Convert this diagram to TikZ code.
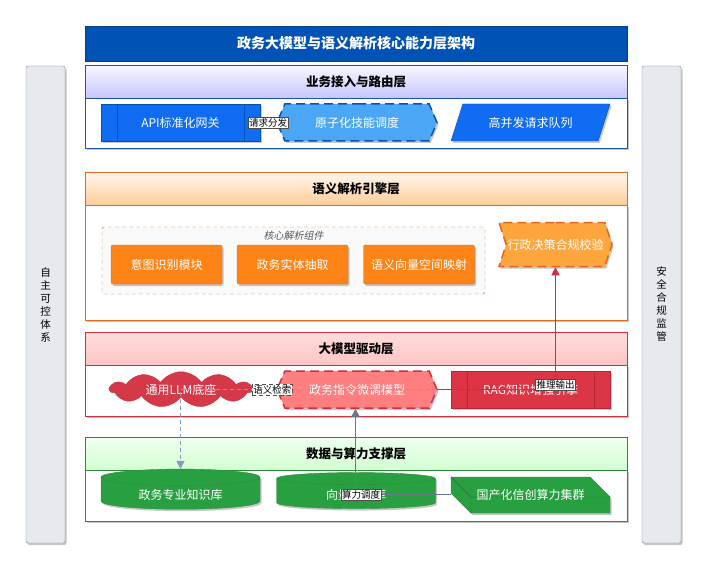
\documentclass[tikz,border=0pt]{standalone}
\usepackage{fontspec}
\setmainfont{Noto Sans CJK SC}
\newfontfamily\slantcjk[FakeSlant=0.2]{Noto Sans CJK SC}
\usetikzlibrary{shapes.geometric,shapes.symbols,shadows,arrows.meta}

\definecolor{titleblue}{HTML}{0052B4}
\definecolor{navyline}{HTML}{1E56A6}
\definecolor{apiblue}{HTML}{106CF2}
\definecolor{skyblue}{HTML}{4BA7F5}
\definecolor{orangeline}{HTML}{E2691F}
\definecolor{orangefill}{HTML}{FF8418}
\definecolor{lightorange}{HTML}{FFA53D}
\definecolor{redline}{HTML}{D12F3F}
\definecolor{redfill}{HTML}{DC3545}
\definecolor{pinkfill}{HTML}{FF7F80}
\definecolor{greenline}{HTML}{2E8A3C}
\definecolor{greenfill}{HTML}{28A042}
\definecolor{sidefill}{HTML}{E6E9ED}
\definecolor{sideline}{HTML}{7F868F}
\definecolor{slateline}{HTML}{6B778A}
\definecolor{mistline}{HTML}{8C9BB1}
\definecolor{arrowred}{HTML}{D42A48}

\tikzset{
  softshadow/.style={drop shadow={shadow xshift=1.5pt,shadow yshift=-2pt,opacity=0.22,fill=black}},
  sidebar/.style={draw=sideline,fill=sidefill,rounded corners=2pt,minimum width=39pt,minimum height=477pt,
    align=center,font=\fontsize{10.5}{13}\selectfont,softshadow},
  layerhead/.style n args={3}{draw=#1,top color=#2,bottom color=#3,minimum width=542pt,minimum height=33pt,
    inner sep=0pt,line width=0.8pt,font=\fontsize{12.5}{14}\selectfont\bfseries},
  layerbody/.style={draw=#1,fill=white,minimum width=542pt,inner sep=0pt,line width=0.8pt,softshadow},
  procbox/.style={rectangle,draw=#1,text=white,minimum width=159pt,minimum height=37pt,softshadow,
    path picture={\draw[#1,line width=0.8pt]
      ([xshift=16pt]path picture bounding box.north west) -- ([xshift=16pt]path picture bounding box.south west)
      ([xshift=-16pt]path picture bounding box.north east) -- ([xshift=-16pt]path picture bounding box.south east);}},
  hexbox/.style={signal,signal to=east and west,signal pointer angle=134,dashed,dash pattern=on 9pt off 5pt,
    line width=1.5pt,text=white,minimum width=160pt,minimum height=37pt,softshadow},
  corebox/.style={rectangle,rounded corners=2pt,draw=orangeline,fill=orangefill,text=white,
    minimum width=111pt,minimum height=39pt,softshadow},
  dbase/.style={cylinder,shape border rotate=90,aspect=0.18,draw=greenline,fill=greenfill,text=white,
    minimum width=159pt,minimum height=36pt,softshadow},
  lbl/.style={fill=white,draw=gray!60!black,line width=0.4pt,inner sep=1pt,text=black,
    font=\fontsize{9.5}{11}\selectfont},
  >={Triangle[length=8pt,width=8pt]}
}

\begin{document}
\begin{tikzpicture}[x=1pt,y=-1pt,font=\fontsize{12}{14}\selectfont]
\path[use as bounding box,fill=white] (0,0) rectangle (709,572);

% side bars
\node[sidebar] (leftbar) at (45.5,304.5) {自\\主\\可\\控\\体\\系};
\node[sidebar] (rightbar) at (661.5,304.5) {安\\全\\合\\规\\监\\管};

% title
\node[draw=titleblue!80!black,fill=titleblue,text=white,minimum width=542pt,minimum height=35pt,
  font=\fontsize{14}{16}\selectfont\bfseries] (title) at (356,43.5) {政务大模型与语义解析核心能力层架构};

% layer 1
\node[layerbody=navyline,minimum height=50pt] (l1body) at (356,123) {};
\node[layerhead={navyline}{blue!3}{blue!22!white}] (l1head) at (356,81.5) {业务接入与路由层};
\node[procbox=titleblue,fill=apiblue] (gateway) at (180.5,122.5) {API标准化网关};
\node[hexbox,draw=apiblue!75!black,fill=skyblue] (sched) at (357,122.5) {原子化技能调度};
\node[trapezium,trapezium left angle=66,trapezium right angle=114,trapezium stretches=true,
  draw=titleblue,fill=apiblue,text=white,minimum width=159pt,minimum height=37pt,softshadow]
  (queue) at (530.5,122.5) {高并发请求队列};

% layer 2
\node[layerbody=orangeline,minimum height=115pt] (l2body) at (356,262.5) {};
\node[layerhead={orangeline}{orange!6}{orange!40!white}] (l2head) at (356,188.5) {语义解析引擎层};
\node[draw=orangeline,dashed,dash pattern=on 4pt off 3pt,fill=gray!4,rounded corners=2pt,
  minimum width=383pt,minimum height=67pt] (core) at (293.5,260.5) {};
\node[text=gray!70!black,font=\fontsize{10}{12}\selectfont\slantcjk] (corelbl) at (293.5,236) {核心解析组件};
\node[corebox] (intent) at (166.5,264.5) {意图识别模块};
\node[corebox] (entity) at (292.5,264.5) {政务实体抽取};
\node[corebox] (vector) at (419,264.5) {语义向量空间映射};
\node[signal,signal from=west,signal to=east,signal pointer angle=144,draw=orangeline,fill=lightorange,
  dashed,dash pattern=on 9pt off 5pt,line width=1.5pt,text=white,inner xsep=0pt,
  minimum width=113pt,minimum height=44pt,softshadow] (check) at (555.5,244.5) {行政决策合规校验};

% layer 3
\node[layerbody=redline,minimum height=51pt] (l3body) at (356,390.5) {};
\node[layerhead={redline}{red!13!white}{red!23!white}] (l3head) at (356,348.5) {大模型驱动层};
\node[cloud,cloud puffs=11,cloud puff arc=110,aspect=4.6,draw=redline,fill=redline!95!white,text=white,
  minimum width=142pt,minimum height=31pt,inner sep=0pt] (llm) at (181,389.5) {通用LLM底座};
\node[hexbox,draw=redline,fill=pinkfill] (tune) at (357,389.5) {政务指令微调模型};
\node[procbox=redline!85!black,fill=redfill] (rag) at (530.5,389.5) {RAG知识增强引擎};

% layer 4
\node[layerbody=greenline,minimum height=51pt] (l4body) at (356,495.5) {};
\node[layerhead={greenline}{green!6!white}{green!18!white}] (l4head) at (356,454) {数据与算力支撑层};
\node[dbase] (kb) at (180.5,494.5) {政务专业知识库};
\node[dbase] (vdb) at (356,494.5) {向量数据库};
\filldraw[draw=greenline,fill=greenfill,drop shadow={shadow xshift=1.5pt,shadow yshift=-2pt,opacity=0.22,fill=black}]
  (451,477) -- (590,477) -- (610,497) -- (610,513) -- (471,513) -- (451,493) -- cycle;
\draw[greenline!80!black] (451,477) -- (471,497) -- (610,497) (471,497) -- (471,513);
\node[text=white,minimum width=159pt,minimum height=36pt] (hw) at (530.5,494.5) {国产化信创算力集群};

% connectors
\path [->,draw=titleblue,line width=1pt] (gateway) edge node[lbl] {请求分发} (sched);
\draw [->,mistline,line width=1pt,dashed,dash pattern=on 4pt off 3pt] (rag.west) -| (kb.north)
  node[lbl,pos=0.33] {语义检索};
\draw [->,arrowred,line width=1.6pt] (tune.east) -| (check.south)
  node[lbl,pos=0.5,yshift=5pt] {推理输出};
\draw [->,slateline,line width=1.6pt] (hw.west) -| ([xshift=-1.5pt]tune.south)
  node[lbl,pos=0.47] {算力调度};
\end{tikzpicture}
\end{document}
